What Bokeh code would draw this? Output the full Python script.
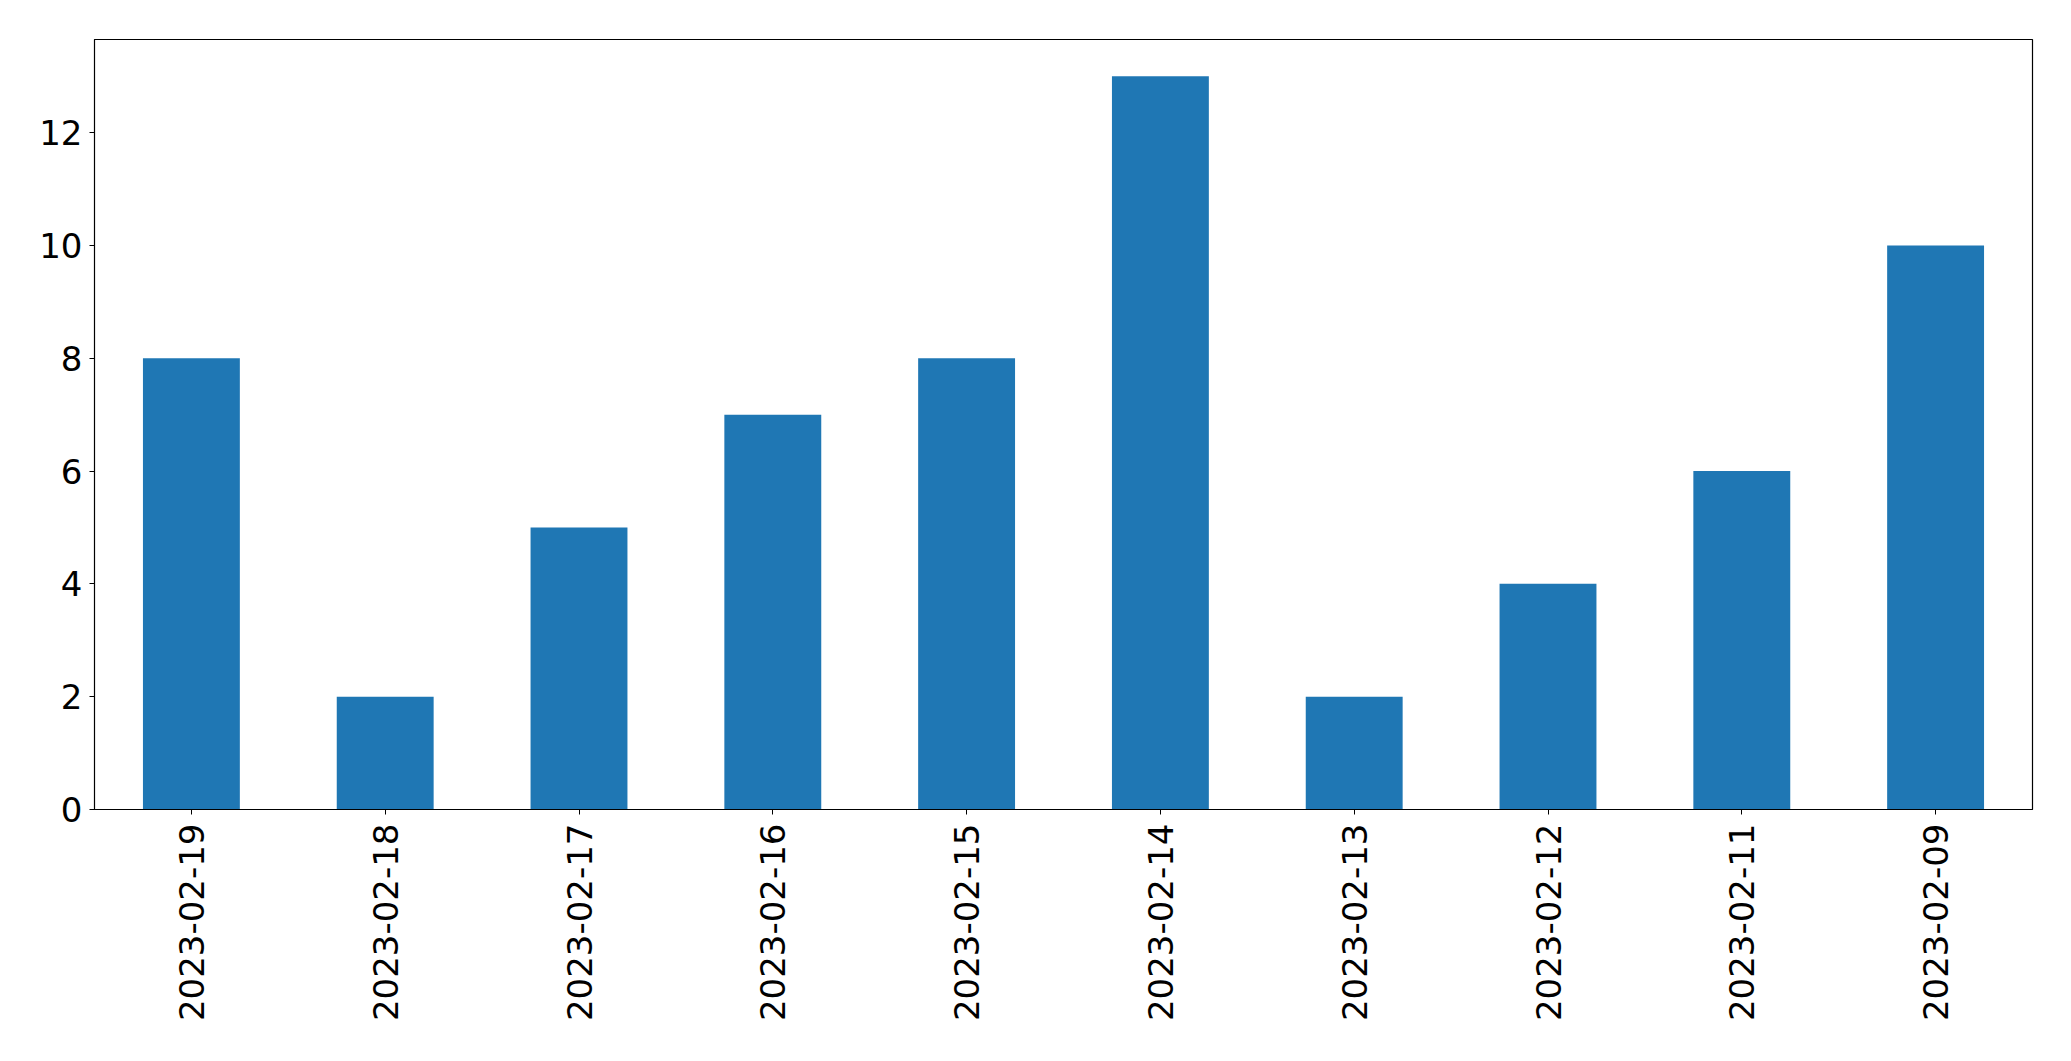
import math
from bokeh.plotting import figure
from bokeh.models import ColumnDataSource, FactorRange, Range1d, FixedTicker
from bokeh.embed import file_html
from bokeh.resources import INLINE

dates = ["2023-02-19", "2023-02-18", "2023-02-17", "2023-02-16", "2023-02-15",
         "2023-02-14", "2023-02-13", "2023-02-12", "2023-02-11", "2023-02-09"]
counts = [8, 2, 5, 7, 8, 13, 2, 4, 6, 10]
y_ticks = [0, 2, 4, 6, 8, 10, 12]

src = ColumnDataSource(data=dict(date=dates, count=counts))

p = figure(
    x_range=FactorRange(*dates, range_padding=0),
    y_range=Range1d(0, max(counts) * 1.05),
    width=2063, height=1053,
    output_backend="svg", toolbar_location=None,
    min_border_left=94, min_border_right=31, min_border_top=39, min_border_bottom=244,
)
p.vbar(x="date", top="count", width=0.5, source=src, color="#1f77b4", line_color=None)

p.xgrid.visible = False
p.ygrid.visible = False
p.outline_line_color = "black"
p.outline_line_width = 1.2
p.background_fill_color = "white"
p.border_fill_color = "white"

for ax in (p.xaxis[0], p.yaxis[0]):
    ax.axis_line_color = "black"
    ax.major_tick_line_color = "black"
    ax.major_tick_out = 5
    ax.major_tick_in = 0
    ax.minor_tick_line_color = None
    ax.major_label_text_font = "DejaVu Sans"
    ax.major_label_text_font_size = "34px"
    ax.major_label_text_color = "black"

p.yaxis[0].ticker = FixedTicker(ticks=y_ticks)
p.yaxis[0].major_label_standoff = 7
p.xaxis[0].major_label_orientation = math.pi / 2
p.xaxis[0].major_label_standoff = 9

open("out.html", "w").write(file_html(p, INLINE))
